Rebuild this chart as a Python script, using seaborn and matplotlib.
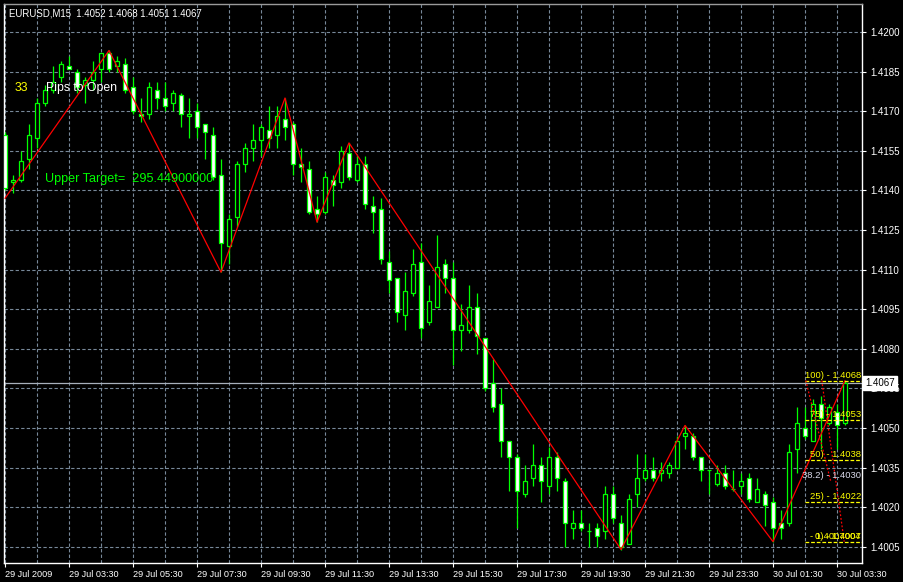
import numpy as np
import matplotlib
matplotlib.use('Agg')
import matplotlib.pyplot as plt
import matplotlib.font_manager as fm
import seaborn as sns

# EURUSD M15 bars (29 Jul 2009 01:30 -> 30 Jul 2009 03:45)
bar_open = [1.4161, 1.4143, 1.4144, 1.4152, 1.4160, 1.4173, 1.4178, 1.4183, 1.4187, 1.4185,
            1.4180, 1.4182, 1.4186, 1.4192, 1.4187, 1.4188, 1.4179, 1.4169, 1.4169, 1.4178,
            1.4175, 1.4173, 1.4176, 1.4168, 1.4170, 1.4165, 1.4161, 1.4146, 1.4119, 1.4130,
            1.4150, 1.4156, 1.4159, 1.4163, 1.4161, 1.4167, 1.4165, 1.4150, 1.4148, 1.4133,
            1.4132, 1.4144, 1.4143, 1.4154, 1.4144, 1.4150, 1.4134, 1.4133, 1.4113, 1.4107,
            1.4093, 1.4101, 1.4113, 1.4090, 1.4096, 1.4112, 1.4107, 1.4087, 1.4087, 1.4096,
            1.4084, 1.4067, 1.4059, 1.4045, 1.4039, 1.4025, 1.4031, 1.4036, 1.4028, 1.4039,
            1.4030, 1.4012, 1.4014, 1.4011, 1.4012, 1.4011, 1.4025, 1.4014, 1.4006, 1.4025,
            1.4031, 1.4034, 1.4033, 1.4033, 1.4035, 1.4047, 1.4047, 1.4039, 1.4034, 1.4029,
            1.4033, 1.4027, 1.4028, 1.4031, 1.4022, 1.4025, 1.4022, 1.4014, 1.4014, 1.4042,
            1.4050, 1.4045, 1.4059, 1.4052, 1.4056, 1.4052]
bar_high = [1.4162, 1.4146, 1.4155, 1.4165, 1.4175, 1.4180, 1.4187, 1.4189, 1.4191, 1.4186,
            1.4183, 1.4189, 1.4192, 1.4193, 1.4191, 1.4190, 1.4183, 1.4175, 1.4181, 1.4181,
            1.4181, 1.4178, 1.4177, 1.4175, 1.4173, 1.4165, 1.4164, 1.4152, 1.4131, 1.4151,
            1.4158, 1.4165, 1.4165, 1.4172, 1.4172, 1.4175, 1.4166, 1.4156, 1.4151, 1.4138,
            1.4147, 1.4146, 1.4157, 1.4158, 1.4153, 1.4153, 1.4138, 1.4137, 1.4117, 1.4107,
            1.4109, 1.4118, 1.4120, 1.4104, 1.4123, 1.4114, 1.4113, 1.4097, 1.4104, 1.4101,
            1.4084, 1.4076, 1.4065, 1.4045, 1.4040, 1.4036, 1.4044, 1.4039, 1.4043, 1.4041,
            1.4031, 1.4019, 1.4019, 1.4014, 1.4014, 1.4028, 1.4028, 1.4017, 1.4025, 1.4040,
            1.4040, 1.4039, 1.4037, 1.4037, 1.4047, 1.4051, 1.4048, 1.4039, 1.4034, 1.4036,
            1.4036, 1.4034, 1.4033, 1.4033, 1.4031, 1.4026, 1.4024, 1.4019, 1.4044, 1.4058,
            1.4058, 1.4061, 1.4062, 1.4059, 1.4059, 1.4068]
bar_low = [1.4140, 1.4139, 1.4143, 1.4148, 1.4156, 1.4172, 1.4177, 1.4181, 1.4186, 1.4177,
           1.4173, 1.4178, 1.4181, 1.4185, 1.4185, 1.4177, 1.4169, 1.4166, 1.4167, 1.4171,
           1.4170, 1.4170, 1.4164, 1.4160, 1.4160, 1.4152, 1.4144, 1.4109, 1.4112, 1.4126,
           1.4147, 1.4151, 1.4153, 1.4156, 1.4156, 1.4159, 1.4146, 1.4143, 1.4131, 1.4128,
           1.4131, 1.4134, 1.4141, 1.4144, 1.4143, 1.4133, 1.4124, 1.4112, 1.4101, 1.4090,
           1.4087, 1.4100, 1.4084, 1.4089, 1.4096, 1.4101, 1.4074, 1.4079, 1.4086, 1.4078,
           1.4064, 1.4056, 1.4039, 1.4026, 1.4012, 1.4024, 1.4028, 1.4022, 1.4025, 1.4026,
           1.4005, 1.4008, 1.4011, 1.4005, 1.4005, 1.4008, 1.4014, 1.4004, 1.4006, 1.4020,
           1.4030, 1.4030, 1.4030, 1.4031, 1.4035, 1.4042, 1.4038, 1.4030, 1.4025, 1.4028,
           1.4027, 1.4026, 1.4025, 1.4022, 1.4022, 1.4013, 1.4007, 1.4008, 1.4013, 1.4033,
           1.4046, 1.4045, 1.4042, 1.4051, 1.4042, 1.4051]
bar_close = [1.4141, 1.4144, 1.4151, 1.4161, 1.4173, 1.4178, 1.4181, 1.4188, 1.4186, 1.4179,
             1.4182, 1.4185, 1.4192, 1.4186, 1.4189, 1.4178, 1.4170, 1.4168, 1.4179, 1.4175,
             1.4172, 1.4177, 1.4169, 1.4169, 1.4164, 1.4162, 1.4145, 1.4120, 1.4129, 1.4150,
             1.4156, 1.4159, 1.4164, 1.4160, 1.4168, 1.4164, 1.4150, 1.4149, 1.4132, 1.4131,
             1.4145, 1.4142, 1.4155, 1.4145, 1.4150, 1.4135, 1.4132, 1.4114, 1.4106, 1.4094,
             1.4102, 1.4112, 1.4088, 1.4098, 1.4111, 1.4107, 1.4087, 1.4089, 1.4096, 1.4085,
             1.4065, 1.4058, 1.4045, 1.4039, 1.4026, 1.4030, 1.4036, 1.4030, 1.4039, 1.4031,
             1.4014, 1.4014, 1.4012, 1.4011, 1.4009, 1.4025, 1.4016, 1.4005, 1.4023, 1.4031,
             1.4034, 1.4031, 1.4034, 1.4036, 1.4045, 1.4048, 1.4039, 1.4034, 1.4034, 1.4033,
             1.4028, 1.4027, 1.4030, 1.4023, 1.4027, 1.4021, 1.4012, 1.4012, 1.4041, 1.4052,
             1.4047, 1.4059, 1.4054, 1.4058, 1.4051, 1.4067]

# zigzag turning points (bar index, price)
zz_bar = [0, 13, 27, 35, 39, 43, 77, 85, 96, 105]
zz_price = [1.4137, 1.4193, 1.4109, 1.4175, 1.4128, 1.4158, 1.4004, 1.4051, 1.4007, 1.4068]

# fibonacci levels on the last swing
fib_levels = [1.4068, 1.4053, 1.4038, 1.4030, 1.4022, 1.4007]
fib_labels = ['100) - 1.4068', '75) - 1.4053', '50) - 1.4038', '38.2) - 1.4030', '25) - 1.4022', '0) - 1.4007']
fib_dashed = [True, True, True, False, True, True]
# dotted fibo trend lines (bar index, price)
fib_trend_a = ([100.1, 103.2], [1.4068, 1.4030])
fib_trend_b = ([102.1, 104.9], [1.4068, 1.4007])

price_ticks = [1.4200, 1.4185, 1.4170, 1.4155, 1.4140, 1.4125, 1.4110, 1.4095, 1.4080,
               1.4065, 1.4050, 1.4035, 1.4020, 1.4005]
time_tick_bars = [0, 8, 16, 24, 32, 40, 48, 56, 64, 72, 80, 88, 96, 104]
time_tick_labels = ['29 Jul 2009', '29 Jul 03:30', '29 Jul 05:30', '29 Jul 07:30', '29 Jul 09:30',
                    '29 Jul 11:30', '29 Jul 13:30', '29 Jul 15:30', '29 Jul 17:30', '29 Jul 19:30',
                    '29 Jul 21:30', '29 Jul 23:30', '30 Jul 01:30', '30 Jul 03:30']
last_price = 1.4067

sns.set_style('dark', rc={'axes.facecolor': 'black', 'figure.facecolor': 'black'})
names = {f.name for f in fm.fontManager.ttflist}
narrow = 'Liberation Sans Narrow' if 'Liberation Sans Narrow' in names else 'Liberation Sans'
plt.rcParams['font.family'] = [narrow, 'DejaVu Sans']
lab_font = ['Liberation Sans', 'DejaVu Sans']

W, H = 904, 582
fig = plt.figure(figsize=(W / 100, H / 100), dpi=100)
ax = fig.add_axes([4 / W, 1 - 563 / H, 858 / W, 559 / H])
ax.set_facecolor('black')

idx = np.arange(len(bar_open))
o = np.array(bar_open)
c = np.array(bar_close)
bull = c >= o

# wicks then bodies
ax.vlines(idx, bar_low, bar_high, color='#00ff00', lw=0.9, zorder=3)
ax.bar(idx, np.abs(c - o), bottom=np.minimum(o, c), width=0.62,
       color=np.where(bull, 'black', 'white'), edgecolor='#00ff00', linewidth=0.9, zorder=4)

# zigzag
sns.lineplot(x=zz_bar, y=zz_price, sort=False, color='red', lw=0.9, ax=ax, zorder=5)

# current price line
ax.axhline(last_price, color='#a8b0bc', lw=0.9, zorder=2)

# fibo levels
for lvl, lab, dsh in zip(fib_levels, fib_labels, fib_dashed):
    if dsh:
        ax.hlines(lvl, 100, 107.2, colors='yellow', linestyles=(0, (3, 1.5)), lw=0.9, zorder=6)
    col = '#dcdcec' if not dsh else 'yellow'
    ax.text(107.0, lvl + 0.00003, lab, color=col, fontsize=6.8, ha='right', va='bottom', zorder=7,
            family=lab_font)
# second fibo object's zero label lands on the same spot
ax.text(107.0, fib_levels[-1] + 0.00003, '- 1.4007004', color='yellow', fontsize=6.8, ha='right',
        va='bottom', zorder=7, family=lab_font)
for tx, ty in (fib_trend_a, fib_trend_b):
    ax.plot(tx, ty, color='red', lw=0.9, linestyle=(0, (1.5, 1.5)), zorder=6)

ax.set_xlim(-0.125, 107.125)
ax.set_ylim(1.39989, 1.42106)

ax.set_xticks(time_tick_bars)
ax.set_xticklabels(time_tick_labels, ha='left', color='white', fontsize=6.6, family=lab_font)
ax.set_xticks(np.arange(0, 108, 4), minor=True)
ax.yaxis.tick_right()
ax.set_yticks(price_ticks)
ax.set_yticklabels([f'{p:.4f}' for p in price_ticks], color='white', fontsize=7, family=lab_font)
ax.tick_params(axis='x', which='major', length=3, width=0.8, color='white', pad=2, bottom=True)
ax.tick_params(axis='x', which='minor', length=0)
ax.tick_params(axis='y', length=3, width=0.8, color='white', pad=3, right=True)
ax.grid(True, which='both', color='#778899', linestyle=(0, (3, 2)), lw=0.8)
ax.set_axisbelow(True)
for s in ax.spines.values():
    s.set_visible(True)
    s.set_color('white')
    s.set_linewidth(1)
ax.spines['top'].set_color('#9a9a9a')

# last price box on the price scale
ax.text(1.004, last_price, '1.4067', transform=ax.get_yaxis_transform(), color='black',
        fontsize=7, ha='left', va='center', zorder=10, clip_on=False, family=lab_font,
        bbox=dict(boxstyle='square,pad=0.2', facecolor='white', edgecolor='white'))

# on-chart labels
fig.text(9 / W, 1 - 13 / H, 'EURUSD,M15  1.4052 1.4068 1.4051 1.4067', color='white',
         fontsize=6.9, va='center', ha='left', family=lab_font)
fig.text(15 / W, 1 - 88 / H, '33', color='yellow', fontsize=8.8, va='center', ha='left',
         family=lab_font)
fig.text(46 / W, 1 - 88 / H, 'Pips to Open', color='white', fontsize=8.8, va='center', ha='left',
         family=lab_font)
fig.text(45 / W, 1 - 179 / H, 'Upper Target=  295.44900000', color='#00ff00', fontsize=9.1,
         va='center', ha='left', family=lab_font)

plt.savefig('out.png', dpi=100, facecolor='black')
